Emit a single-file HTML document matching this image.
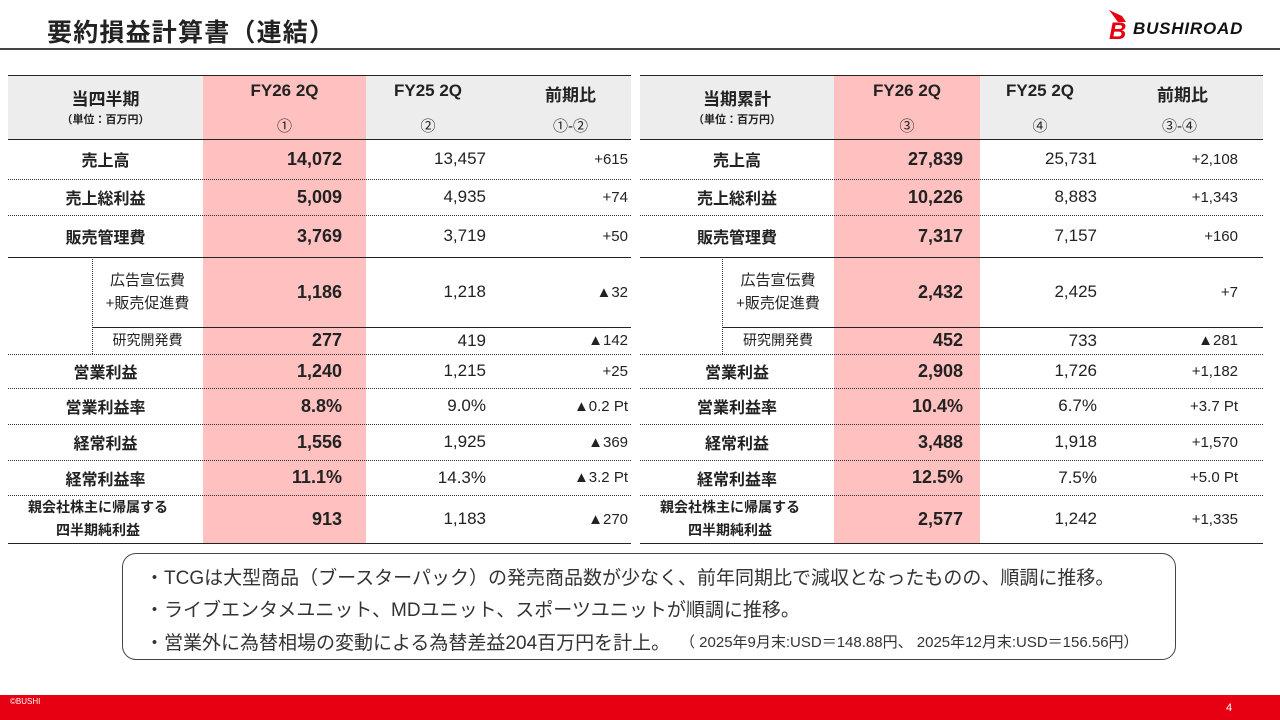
<!DOCTYPE html>
<html><head><meta charset="utf-8">
<style>
*{margin:0;padding:0;box-sizing:border-box}
body{width:1280px;height:720px;position:relative;background:#fff;overflow:hidden;font-family:"Liberation Sans","Noto Sans CJK JP",sans-serif;color:#222}
.a{position:absolute;white-space:nowrap}
.t{position:absolute;top:75px;width:623px;height:468px}
.hd{position:absolute;left:0;top:0;width:100%;height:64px;background:#ededed}
.pk{position:absolute;top:0;height:468px;background:#ffc0c0}
.hl{position:absolute;left:0;width:100%;height:0;border-top:1.5px solid #222}
.dl{position:absolute;left:0;width:100%;height:0;border-top:1px dotted #333}
.c{position:absolute;display:flex;align-items:center;white-space:nowrap}
.lb{justify-content:center;font-weight:bold;font-size:16px}
.v1{justify-content:flex-end;font-weight:bold;font-size:18px}
.v2{justify-content:flex-end;font-size:17px}
.v3{justify-content:flex-end;font-size:15px}
.sub{font-size:15px;justify-content:center;line-height:23px;text-align:center}
.hh{position:absolute;font-weight:bold;font-size:17px;text-align:center}
</style></head><body>
<div class="a" style="left:47px;top:13px;font-size:25px;font-weight:bold;letter-spacing:1.2px">要約損益計算書（連結）</div>
<div class="a" style="left:1108px;top:8px;width:22px;height:30px">
<svg width="24" height="32" viewBox="0 0 24 32"><path d="M1 2 L14 8 L18 14 L10 14 Z" fill="#e60012"/><text x="1" y="31" font-family="Liberation Sans" font-weight="bold" font-style="italic" font-size="24" fill="#e60012">B</text></svg></div>
<div class="a" style="left:1133px;top:19px;font-size:17px;font-weight:bold;font-style:italic;color:#111;letter-spacing:0.8px">BUSHIROAD</div>
<div class="a" style="left:0;top:48px;width:1280px;height:2px;background:#444"></div>

<!-- LEFT TABLE -->
<div class="t" style="left:8px">
<div class="hd"></div>
<div class="pk" style="left:195px;width:163px"></div>
<div class="hh" style="left:0;width:195px;top:10px">当四半期</div>
<div class="hh" style="left:0;width:195px;top:36px;font-size:11px">（単位：百万円）</div>
<div class="hh" style="left:195px;width:163px;top:6px">FY26 2Q</div>
<div class="hh" style="left:195px;width:163px;top:40px;font-weight:normal;font-size:15px">①</div>
<div class="hh" style="left:358px;width:124px;top:6px">FY25 2Q</div>
<div class="hh" style="left:358px;width:124px;top:40px;font-weight:normal;font-size:15px">②</div>
<div class="hh" style="left:537px;width:130px;top:6px;text-align:left">前期比</div>
<div class="hh" style="left:545px;width:60px;top:40px;font-weight:normal;font-size:15px;text-align:left">①-②</div>
<div class="hl" style="top:0"></div><div class="hl" style="top:64px"></div>
<div class="dl" style="top:104px"></div><div class="dl" style="top:140px"></div>
<div class="hl" style="top:182px"></div>
<div class="hl" style="top:252px;left:84px;width:539px"></div>
<div class="dl" style="top:279px"></div><div class="dl" style="top:313px"></div><div class="dl" style="top:349px"></div><div class="dl" style="top:385px"></div><div class="dl" style="top:420px"></div>
<div class="hl" style="top:468px"></div>
<div class="a" style="left:84px;top:182px;height:97px;border-left:1px dotted #333"></div>

<div class="c lb" style="left:0;width:195px;top:64px;height:40px">売上高</div>
<div class="c v1" style="left:195px;width:139px;top:64px;height:40px">14,072</div>
<div class="c v2" style="left:358px;width:120px;top:64px;height:40px">13,457</div>
<div class="c v3" style="left:482px;width:138px;top:64px;height:40px">+615</div>

<div class="c lb" style="left:0;width:195px;top:104px;height:36px">売上総利益</div>
<div class="c v1" style="left:195px;width:139px;top:104px;height:36px">5,009</div>
<div class="c v2" style="left:358px;width:120px;top:104px;height:36px">4,935</div>
<div class="c v3" style="left:482px;width:138px;top:104px;height:36px">+74</div>

<div class="c lb" style="left:0;width:195px;top:140px;height:42px">販売管理費</div>
<div class="c v1" style="left:195px;width:139px;top:140px;height:42px">3,769</div>
<div class="c v2" style="left:358px;width:120px;top:140px;height:42px">3,719</div>
<div class="c v3" style="left:482px;width:138px;top:140px;height:42px">+50</div>

<div class="c sub" style="left:84px;width:111px;top:182px;height:70px">広告宣伝費<br>+販売促進費</div>
<div class="c v1" style="left:195px;width:139px;top:182px;height:70px">1,186</div>
<div class="c v2" style="left:358px;width:120px;top:182px;height:70px">1,218</div>
<div class="c v3" style="left:482px;width:138px;top:182px;height:70px">▲32</div>

<div class="c sub" style="left:84px;width:111px;top:252px;height:27px;font-size:14px">研究開発費</div>
<div class="c v1" style="left:195px;width:139px;top:252px;height:27px">277</div>
<div class="c v2" style="left:358px;width:120px;top:252px;height:27px">419</div>
<div class="c v3" style="left:482px;width:138px;top:252px;height:27px">▲142</div>

<div class="c lb" style="left:0;width:195px;top:279px;height:34px">営業利益</div>
<div class="c v1" style="left:195px;width:139px;top:279px;height:34px">1,240</div>
<div class="c v2" style="left:358px;width:120px;top:279px;height:34px">1,215</div>
<div class="c v3" style="left:482px;width:138px;top:279px;height:34px">+25</div>

<div class="c lb" style="left:0;width:195px;top:313px;height:36px">営業利益率</div>
<div class="c v1" style="left:195px;width:139px;top:313px;height:36px">8.8%</div>
<div class="c v2" style="left:358px;width:120px;top:313px;height:36px">9.0%</div>
<div class="c v3" style="left:482px;width:138px;top:313px;height:36px">▲0.2 Pt</div>

<div class="c lb" style="left:0;width:195px;top:349px;height:36px">経常利益</div>
<div class="c v1" style="left:195px;width:139px;top:349px;height:36px">1,556</div>
<div class="c v2" style="left:358px;width:120px;top:349px;height:36px">1,925</div>
<div class="c v3" style="left:482px;width:138px;top:349px;height:36px">▲369</div>

<div class="c lb" style="left:0;width:195px;top:385px;height:35px">経常利益率</div>
<div class="c v1" style="left:195px;width:139px;top:385px;height:35px">11.1%</div>
<div class="c v2" style="left:358px;width:120px;top:385px;height:35px">14.3%</div>
<div class="c v3" style="left:482px;width:138px;top:385px;height:35px">▲3.2 Pt</div>

<div class="c lb" style="left:0;width:180px;top:420px;height:48px;font-size:14px;line-height:23px;text-align:center">親会社株主に帰属する<br>四半期純利益</div>
<div class="c v1" style="left:195px;width:139px;top:420px;height:48px">913</div>
<div class="c v2" style="left:358px;width:120px;top:420px;height:48px">1,183</div>
<div class="c v3" style="left:482px;width:138px;top:420px;height:48px">▲270</div>
</div>

<!-- RIGHT TABLE -->
<div class="t" style="left:640px">
<div class="hd"></div>
<div class="pk" style="left:194px;width:146px"></div>
<div class="hh" style="left:0;width:194px;top:10px">当期累計</div>
<div class="hh" style="left:0;width:194px;top:36px;font-size:11px">（単位：百万円）</div>
<div class="hh" style="left:194px;width:146px;top:6px">FY26 2Q</div>
<div class="hh" style="left:194px;width:146px;top:40px;font-weight:normal;font-size:15px">③</div>
<div class="hh" style="left:340px;width:120px;top:6px">FY25 2Q</div>
<div class="hh" style="left:340px;width:120px;top:40px;font-weight:normal;font-size:15px">④</div>
<div class="hh" style="left:517px;width:80px;top:6px;text-align:left">前期比</div>
<div class="hh" style="left:522px;width:60px;top:40px;font-weight:normal;font-size:15px;text-align:left">③-④</div>
<div class="hl" style="top:0"></div><div class="hl" style="top:64px"></div>
<div class="dl" style="top:104px"></div><div class="dl" style="top:140px"></div>
<div class="hl" style="top:182px"></div>
<div class="hl" style="top:252px;left:82px;width:541px"></div>
<div class="dl" style="top:279px"></div><div class="dl" style="top:313px"></div><div class="dl" style="top:349px"></div><div class="dl" style="top:385px"></div><div class="dl" style="top:420px"></div>
<div class="hl" style="top:468px"></div>
<div class="a" style="left:82px;top:182px;height:97px;border-left:1px dotted #333"></div>

<div class="c lb" style="left:0;width:194px;top:64px;height:40px">売上高</div>
<div class="c v1" style="left:194px;width:129px;top:64px;height:40px">27,839</div>
<div class="c v2" style="left:340px;width:117px;top:64px;height:40px">25,731</div>
<div class="c v3" style="left:460px;width:138px;top:64px;height:40px">+2,108</div>

<div class="c lb" style="left:0;width:194px;top:104px;height:36px">売上総利益</div>
<div class="c v1" style="left:194px;width:129px;top:104px;height:36px">10,226</div>
<div class="c v2" style="left:340px;width:117px;top:104px;height:36px">8,883</div>
<div class="c v3" style="left:460px;width:138px;top:104px;height:36px">+1,343</div>

<div class="c lb" style="left:0;width:194px;top:140px;height:42px">販売管理費</div>
<div class="c v1" style="left:194px;width:129px;top:140px;height:42px">7,317</div>
<div class="c v2" style="left:340px;width:117px;top:140px;height:42px">7,157</div>
<div class="c v3" style="left:460px;width:138px;top:140px;height:42px">+160</div>

<div class="c sub" style="left:82px;width:112px;top:182px;height:70px">広告宣伝費<br>+販売促進費</div>
<div class="c v1" style="left:194px;width:129px;top:182px;height:70px">2,432</div>
<div class="c v2" style="left:340px;width:117px;top:182px;height:70px">2,425</div>
<div class="c v3" style="left:460px;width:138px;top:182px;height:70px">+7</div>

<div class="c sub" style="left:82px;width:112px;top:252px;height:27px;font-size:14px">研究開発費</div>
<div class="c v1" style="left:194px;width:129px;top:252px;height:27px">452</div>
<div class="c v2" style="left:340px;width:117px;top:252px;height:27px">733</div>
<div class="c v3" style="left:460px;width:138px;top:252px;height:27px">▲281</div>

<div class="c lb" style="left:0;width:194px;top:279px;height:34px">営業利益</div>
<div class="c v1" style="left:194px;width:129px;top:279px;height:34px">2,908</div>
<div class="c v2" style="left:340px;width:117px;top:279px;height:34px">1,726</div>
<div class="c v3" style="left:460px;width:138px;top:279px;height:34px">+1,182</div>

<div class="c lb" style="left:0;width:194px;top:313px;height:36px">営業利益率</div>
<div class="c v1" style="left:194px;width:129px;top:313px;height:36px">10.4%</div>
<div class="c v2" style="left:340px;width:117px;top:313px;height:36px">6.7%</div>
<div class="c v3" style="left:460px;width:138px;top:313px;height:36px">+3.7 Pt</div>

<div class="c lb" style="left:0;width:194px;top:349px;height:36px">経常利益</div>
<div class="c v1" style="left:194px;width:129px;top:349px;height:36px">3,488</div>
<div class="c v2" style="left:340px;width:117px;top:349px;height:36px">1,918</div>
<div class="c v3" style="left:460px;width:138px;top:349px;height:36px">+1,570</div>

<div class="c lb" style="left:0;width:194px;top:385px;height:35px">経常利益率</div>
<div class="c v1" style="left:194px;width:129px;top:385px;height:35px">12.5%</div>
<div class="c v2" style="left:340px;width:117px;top:385px;height:35px">7.5%</div>
<div class="c v3" style="left:460px;width:138px;top:385px;height:35px">+5.0 Pt</div>

<div class="c lb" style="left:0;width:180px;top:420px;height:48px;font-size:14px;line-height:23px;text-align:center">親会社株主に帰属する<br>四半期純利益</div>
<div class="c v1" style="left:194px;width:129px;top:420px;height:48px">2,577</div>
<div class="c v2" style="left:340px;width:117px;top:420px;height:48px">1,242</div>
<div class="c v3" style="left:460px;width:138px;top:420px;height:48px">+1,335</div>
</div>

<div class="a" style="left:122px;top:553px;width:1054px;height:107px;border:1px solid #444;border-radius:14px"></div>
<div class="a" style="left:145px;top:563px;font-size:19px;color:#333">・TCGは大型商品（ブースターパック）の発売商品数が少なく、前年同期比で減収となったものの、順調に推移。</div>
<div class="a" style="left:145px;top:595px;font-size:19px;color:#333">・ライブエンタメユニット、MDユニット、スポーツユニットが順調に推移。</div>
<div class="a" style="left:145px;top:628px;font-size:19px;color:#333">・営業外に為替相場の変動による為替差益204百万円を計上。</div>
<div class="a" style="left:680px;top:631px;font-size:15px;color:#333">（ 2025年9月末:USD＝148.88円、 2025年12月末:USD＝156.56円）</div>

<div class="a" style="left:0;top:695px;width:1280px;height:25px;background:#e60012"></div>
<div class="a" style="left:10px;top:697px;font-size:8px;color:#fff">©BUSHI</div>
<div class="a" style="left:1226px;top:702px;font-size:11px;color:#fff">4</div>
</body></html>
